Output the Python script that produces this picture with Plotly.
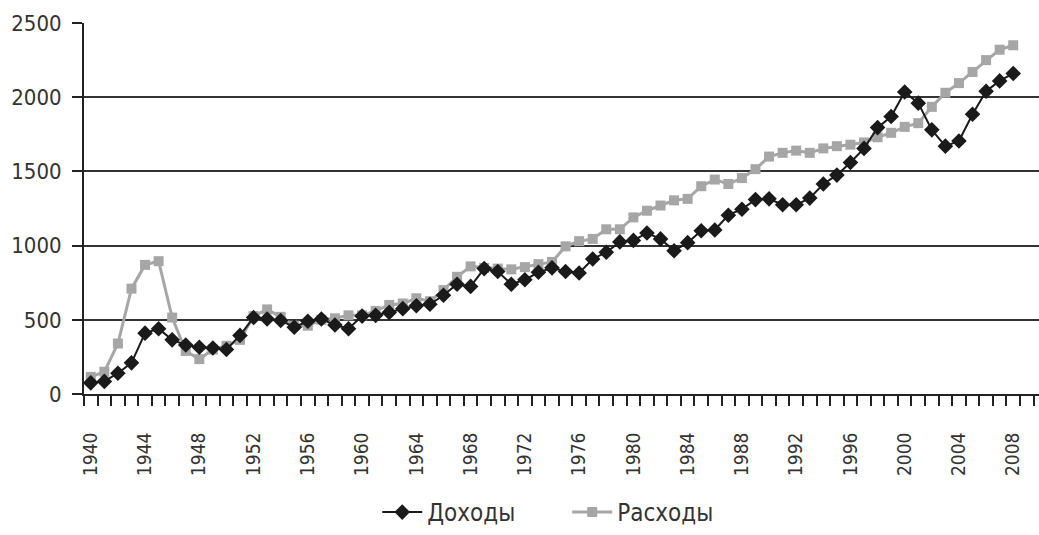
import plotly.graph_objects as go

years = list(range(1940, 2009))
income = [75, 85, 140, 210, 410, 440, 365, 330, 315, 310,
          300, 395, 515, 505, 495, 450, 490, 505, 465, 440,
          525, 530, 550, 575, 595, 605, 665, 740, 725, 845,
          825, 740, 770, 820, 850, 825, 815, 910, 955, 1025,
          1035, 1085, 1045, 965, 1020, 1100, 1105, 1205, 1245, 1310,
          1315, 1275, 1275, 1320, 1415, 1475, 1560, 1655, 1795, 1870,
          2035, 1960, 1780, 1670, 1705, 1885, 2040, 2110, 2160]
spending = [115, 150, 340, 710, 870, 895, 515, 290, 235, 300,
            325, 365, 525, 570, 520, 460, 460, 500, 510, 530,
            530, 560, 600, 610, 645, 625, 700, 790, 860, 850,
            845, 840, 855, 875, 890, 995, 1030, 1045, 1110, 1110,
            1190, 1235, 1270, 1305, 1315, 1400, 1445, 1415, 1455, 1515,
            1600, 1625, 1640, 1625, 1655, 1670, 1680, 1695, 1730, 1760,
            1800, 1825, 1935, 2030, 2095, 2170, 2250, 2320, 2350]
tick_years = list(range(1940, 2009, 4))
tick_labels = [str(y) for y in tick_years]
y_ticks = [0, 500, 1000, 1500, 2000, 2500]

FONT = "DejaVu Sans Condensed, Liberation Sans Narrow, sans-serif"

fig = go.Figure()
fig.add_trace(go.Scatter(
    x=years, y=spending, name="Расходы", mode="lines+markers",
    line=dict(color="#a6a6a6", width=3),
    marker=dict(symbol="square", size=10, color="#a6a6a6"),
))
fig.add_trace(go.Scatter(
    x=years, y=income, name="Доходы", mode="lines+markers",
    line=dict(color="#1a1a1a", width=2),
    marker=dict(symbol="diamond", size=12, color="#1a1a1a"),
))

fig.update_layout(
    width=1039, height=535,
    margin=dict(l=84, r=0, t=23, b=141),
    paper_bgcolor="white", plot_bgcolor="white",
    font=dict(family=FONT, size=22, color="#333333"),
    legend=dict(orientation="h", x=0.506, xanchor="center",
                yref="container", y=-0.011, yanchor="bottom",
                traceorder="reversed", font=dict(size=24), itemwidth=40,
                entrywidth=135),
    showlegend=True,
)
fig.update_xaxes(
    range=[1939.5, 2009.9], automargin=False,
    tickmode="array", tickvals=tick_years, ticktext=tick_labels,
    tickfont=dict(size=19),
    tickangle=-90, ticks="", showgrid=False, ticklabelstandoff=29,
    showline=True, linecolor="#222222", linewidth=2,
    minor=dict(tick0=1939.5, dtick=1, ticks="outside", ticklen=10,
               tickcolor="#222222", tickwidth=1.5, showgrid=False),
    zeroline=False,
)
fig.update_yaxes(
    range=[0, 2500], tickmode="array", tickvals=y_ticks, automargin=False,
    ticks="outside", ticklen=10, tickcolor="#222222", tickwidth=1.5,
    ticklabelstandoff=6,
    showgrid=True, gridcolor="#333333", gridwidth=1.5,
    showline=True, linecolor="#222222", linewidth=2,
    zeroline=False,
)

fig.write_html("out.html", config={"displayModeBar": False},
               post_script="document.body.style.margin='0';")
